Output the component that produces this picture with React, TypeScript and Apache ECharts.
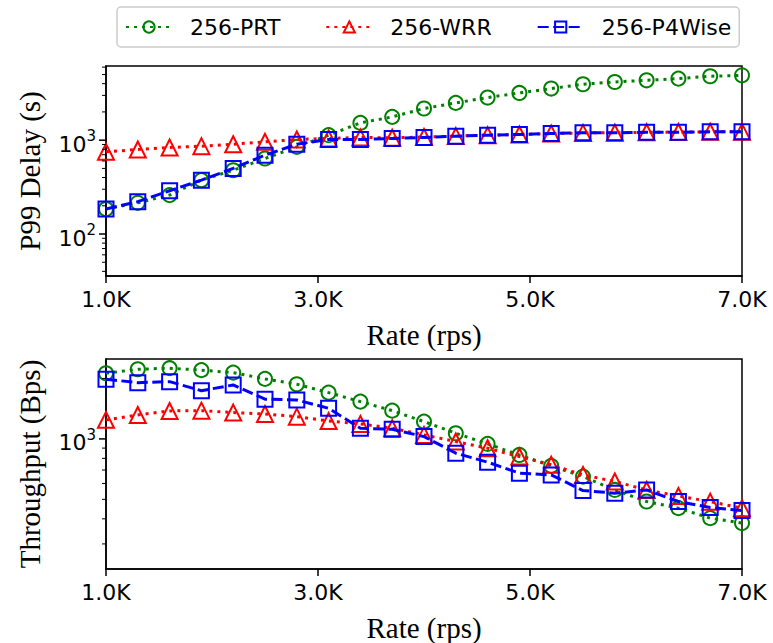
import React, { useEffect, useRef } from "react";
import * as echarts from "echarts";

const rates = [1000, 1300, 1600, 1900, 2200, 2500, 2800, 3100, 3400, 3700, 4000, 4300, 4600, 4900, 5200, 5500, 5800, 6100, 6400, 6700, 7000];

const seriesNames = ["256-PRT", "256-WRR", "256-P4Wise"];

const delayPRT = [185, 215, 260, 375, 478, 638, 849, 1130, 1528, 1771, 2175, 2494, 2845, 3185, 3548, 3945, 4170, 4345, 4530, 4800, 4910];
const delayWRR = [751, 796, 836, 863, 906, 960, 1017, 1042, 1068, 1060, 1080, 1105, 1130, 1150, 1175, 1195, 1200, 1215, 1220, 1228, 1232];
const delayP4Wise = [185, 221, 289, 375, 500, 692, 906, 1017, 1017, 1042, 1068, 1103, 1130, 1150, 1178, 1196, 1196, 1216, 1216, 1226, 1226];

const tputPRT = [2123, 2223, 2250, 2200, 2138, 1990, 1872, 1700, 1534, 1383, 1219, 1067, 944, 832, 734, 649, 557, 488, 452, 403, 381];
const tputWRR = [1244, 1316, 1378, 1383, 1352, 1331, 1291, 1229, 1188, 1130, 1047, 970, 899, 817, 743, 662, 614, 557, 520, 487, 452];
const tputP4Wise = [1983, 1906, 1928, 1738, 1857, 1578, 1563, 1421, 1130, 1117, 1027, 849, 766, 675, 662, 553, 537, 557, 488, 455, 440];

const xTicks = [1000, 3000, 5000, 7000];
const delayMajorTicks = [100, 1000];
const delayMinorTicks = [40, 50, 60, 70, 80, 90, 200, 300, 400, 500, 600, 700, 800, 900, 2000, 3000, 4000, 5000, 6000];
const tputMajorTicks = [1000];
const tputMinorTicks = [300, 400, 500, 600, 700, 800, 900, 2000];

const delayRange = [35.7, 6170];
const tputRange = [225, 2500];

const colors = ["#008000", "#ff0000", "#0000ff"];
const symbols = ["circle", "triangle", "rect"];
const dashes: any[] = [[3, 5], [3, 5], [11, 4.5]];
const symbolSizes = [14, 16, 15];

export default function App() {
  const ref = useRef<HTMLDivElement>(null);
  useEffect(() => {
    if (!ref.current) return;
    const chart = echarts.init(ref.current, null, { renderer: "svg" });
    const sans = "DejaVu Sans";
    const serif = "Liberation Serif";

    const grids = [
      { left: 106, right: 31, top: 66, height: 210 },
      { left: 106, right: 31, top: 359, height: 210 },
    ];

    const xAxis = [0, 1].map((i) => ({
      type: "value",
      gridIndex: i,
      min: xTicks[0],
      max: xTicks[xTicks.length - 1],
      interval: xTicks[1] - xTicks[0],
      name: "Rate (rps)",
      nameLocation: "middle",
      nameGap: 44,
      nameTextStyle: { fontFamily: serif, fontSize: 29, color: "#000" },
      axisLine: { show: true, lineStyle: { color: "#000", width: 1.5 } },
      axisTick: { show: true, inside: false, length: 7, lineStyle: { color: "#000", width: 1.5 } },
      axisLabel: {
        margin: 12,
        fontFamily: sans,
        fontSize: 22,
        color: "#000",
        formatter: (v: number) => (v / 1000).toFixed(1) + "K",
      },
      splitLine: { show: false },
    }));

    const supFmt = (v: number) => {
      const e = Math.round(Math.log10(v));
      if (Math.abs(v - Math.pow(10, e)) / v > 0.01) return "";
      return "{a|10}{b|" + e + "}";
    };

    const yAxis = [
      { range: delayRange, name: "P99 Delay (s)" },
      { range: tputRange, name: "Throughput (Bps)" },
    ].map((c, i) => ({
      type: "log",
      logBase: 10,
      gridIndex: i,
      min: c.range[0],
      max: c.range[1],
      name: c.name,
      nameLocation: "middle",
      nameGap: 62,
      nameTextStyle: { fontFamily: serif, fontSize: 29, color: "#000" },
      axisLine: { show: true, lineStyle: { color: "#000", width: 1.5 } },
      axisTick: { show: false },
      splitLine: { show: false },
      minorTick: { show: false },
      axisLabel: {
        margin: 10,
        color: "#000",
        formatter: supFmt,
        rich: {
          a: { fontFamily: sans, fontSize: 22, color: "#000", padding: [8, 0, 0, 0] },
          b: { fontFamily: sans, fontSize: 15, color: "#000", padding: [0, 0, 8, 0] },
        },
      },
    }));

    const dataSets = [
      [delayPRT, delayWRR, delayP4Wise],
      [tputPRT, tputWRR, tputP4Wise],
    ];

    const series: any[] = [];
    dataSets.forEach((sets, g) => {
      sets.forEach((vals, k) => {
        series.push({
          type: "line",
          name: seriesNames[k],
          xAxisIndex: g,
          yAxisIndex: g,
          data: rates.map((r, j) => [r, vals[j]]),
          symbol: symbols[k],
          symbolSize: symbolSizes[k],
          showAllSymbol: true,
          clip: false,
          z: 2 + k,
          lineStyle: { color: colors[k], width: 3, type: dashes[k], cap: "butt" },
          itemStyle: { color: "rgba(255,255,255,0)", borderColor: colors[k], borderWidth: 2 },
          emphasis: { disabled: true },
        });
      });
    });

    const tickSets = [
      { major: delayMajorTicks, minor: delayMinorTicks },
      { major: tputMajorTicks, minor: tputMinorTicks },
    ];
    tickSets.forEach((t, g) => {
      const data = t.major.map((v) => [xTicks[0], v, 7]).concat(t.minor.map((v) => [xTicks[0], v, 4]));
      series.push({
        type: "custom",
        xAxisIndex: g,
        yAxisIndex: g,
        silent: true,
        clip: false,
        z: 10,
        data,
        renderItem: (params: any, api: any) => {
          const p = api.coord([api.value(0), api.value(1)]);
          const len = api.value(2);
          return {
            type: "line",
            shape: { x1: p[0] - len, y1: p[1], x2: p[0], y2: p[1] },
            style: { stroke: "#000", lineWidth: len > 5 ? 1.5 : 1 },
          };
        },
      });
    });

    chart.setOption({
      animation: false,
      backgroundColor: "#fff",
      grid: grids.map((g) => ({ ...g, show: true, borderColor: "#000", borderWidth: 1.5, backgroundColor: "transparent" })),
      xAxis,
      yAxis,
      legend: {
        data: seriesNames,
        left: 117,
        top: 7,
        padding: [9, 8, 9, 8],
        itemGap: 45,
        itemWidth: 46,
        itemHeight: 14,
        backgroundColor: "#fff",
        borderColor: "#cccccc",
        borderWidth: 1.5,
        borderRadius: 4,
        textStyle: { fontFamily: sans, fontSize: 22, color: "#000", padding: [0, 0, 0, 13] },
      },
      series,
    });
    return () => chart.dispose();
  }, []);
  return <div ref={ref} style={{ position: "fixed", left: 0, top: 0, width: 773, height: 643 }} />;
}
